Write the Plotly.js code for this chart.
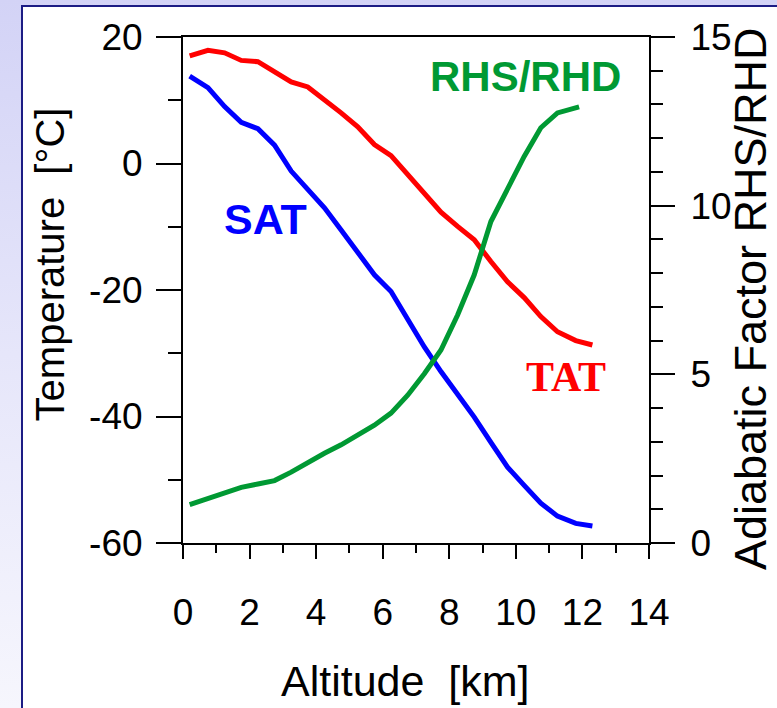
<!DOCTYPE html>
<html>
<head>
<meta charset="utf-8">
<script src="https://cdn.plot.ly/plotly-3.0.1.min.js"></script>
<style>
  html, body { margin: 0; padding: 0; width: 777px; height: 708px; overflow: hidden; }
  body { background: linear-gradient(to bottom, #d3d3f6 0%, #e6e6fa 50%, #f6f6fd 100%); position: relative; }
  #panel { position: absolute; left: 21px; top: 5px; width: 790px; height: 760px; background: #ffffff; border: 2px solid #1c1c84; box-sizing: border-box; }
  #chart { position: absolute; left: 0; top: 0; width: 777px; height: 708px; }
</style>
</head>
<body>
<div id="panel"></div>
<div id="chart"></div>
<script>
// Altitude [km] for the temperature profiles
const altitude = [0.2, 0.75, 1.25, 1.75, 2.25, 2.75, 3.25, 3.75, 4.25, 4.75, 5.25, 5.75, 6.25, 6.75, 7.25, 7.75, 8.25, 8.75, 9.25, 9.75, 10.25, 10.75, 11.25, 11.8, 12.3];
// Total air temperature [°C]
const tat = [17.0, 17.9, 17.5, 16.3, 16.1, 14.6, 12.9, 12.1, 10.1, 8.0, 5.8, 3.0, 1.25, -1.75, -4.7, -7.7, -9.95, -12.05, -15.5, -18.7, -21.2, -24.2, -26.6, -28.0, -28.7];
// Static air temperature [°C]
const sat = [13.8, 12.0, 9.0, 6.5, 5.5, 2.9, -1.2, -4.1, -7.0, -10.5, -13.9, -17.6, -20.25, -24.6, -29.0, -32.9, -36.4, -40.1, -44.1, -48.0, -50.9, -53.7, -55.75, -56.9, -57.3];
// Altitude [km] for the adiabatic factor
const altitudeRatio = [0.2, 0.75, 1.25, 1.75, 2.25, 2.75, 3.25, 3.75, 4.25, 4.75, 5.25, 5.75, 6.25, 6.75, 7.25, 7.75, 8.25, 8.75, 9.25, 9.75, 10.25, 10.75, 11.25, 11.9];
// Adiabatic factor RHS/RHD
const rhsRhd = [1.14, 1.31, 1.50, 1.65, 1.75, 1.85, 2.10, 2.40, 2.66, 2.91, 3.19, 3.49, 3.85, 4.38, 5.02, 5.72, 6.76, 7.95, 9.53, 10.47, 11.46, 12.31, 12.75, 12.93];

const xTicks = [0, 2, 4, 6, 8, 10, 12, 14];
const xTickText = ['0', '2', '4', '6', '8', '10', '12', '14'];
const yTicks = [-60, -40, -20, 0, 20];
const yTickText = ['-60', '-40', '-20', '0', '20'];
const y2Ticks = [0, 5, 10, 15];
const y2TickText = ['0', '5', '10', '15'];

const FONT = 'Arial, "Liberation Sans", sans-serif';

const traces = [
  { x: altitude, y: tat, type: 'scatter', mode: 'lines', name: 'TAT',
    line: { color: '#ff0000', width: 5 }, yaxis: 'y' },
  { x: altitude, y: sat, type: 'scatter', mode: 'lines', name: 'SAT',
    line: { color: '#0000ff', width: 5 }, yaxis: 'y' },
  { x: altitudeRatio, y: rhsRhd, type: 'scatter', mode: 'lines', name: 'RHS/RHD',
    line: { color: '#009933', width: 5 }, yaxis: 'y2' }
];

const axCommon = {
  showgrid: false, zeroline: false, showline: true, linecolor: '#000', linewidth: 2,
  ticks: 'outside', tickcolor: '#000', tickwidth: 2,
  tickfont: { family: FONT, size: 37, color: '#000' }
};

const layout = {
  width: 777, height: 708,
  margin: { l: 183, r: 128, t: 37, b: 165, pad: 0 },
  paper_bgcolor: 'rgba(0,0,0,0)',
  plot_bgcolor: 'rgba(0,0,0,0)',
  showlegend: false,
  xaxis: Object.assign({}, axCommon, {
    range: [0, 14], tickmode: 'array', tickvals: xTicks, ticktext: xTickText, ticklen: 14, mirror: true,
    ticklabelstandoff: 22,
    minor: { dtick: 1, ticks: 'outside', ticklen: 8, tickwidth: 2, tickcolor: '#000' }
  }),
  yaxis: Object.assign({}, axCommon, {
    range: [-60, 20], tickmode: 'array', tickvals: yTicks, ticktext: yTickText, ticklen: 25, ticklabelstandoff: 6,
    minor: { dtick: 10, ticks: 'outside', ticklen: 13, tickwidth: 2, tickcolor: '#000' }
  }),
  yaxis2: Object.assign({}, axCommon, {
    range: [0, 15], tickmode: 'array', tickvals: y2Ticks, ticktext: y2TickText, ticklen: 24, side: 'right', overlaying: 'y',
    ticklabelstandoff: 8,
    minor: { dtick: 1, ticks: 'outside', ticklen: 12, tickwidth: 2, tickcolor: '#000' }
  }),
  annotations: [
    { text: 'Altitude\u00a0 [km]', xref: 'paper', yref: 'paper', x: 0.478, y: -0.272,
      xanchor: 'center', yanchor: 'middle', showarrow: false,
      font: { family: FONT, size: 43, color: '#000' } },
    { text: 'Temperature\u00a0 [°C]', xref: 'paper', yref: 'paper', x: -0.286, y: 0.55,
      xanchor: 'center', yanchor: 'middle', showarrow: false, textangle: -90,
      font: { family: FONT, size: 40, color: '#000' } },
    { text: 'Adiabatic Factor RHS/RHD', xref: 'paper', yref: 'paper', x: 1.2167, y: 0.484,
      xanchor: 'center', yanchor: 'middle', showarrow: false, textangle: -90,
      font: { family: FONT, size: 45, color: '#000' } },
    { text: '<b>SAT</b>', xref: 'paper', yref: 'paper', x: (265 - 183) / 466, y: (543 - 219) / 506,
      xanchor: 'center', yanchor: 'middle', showarrow: false,
      font: { family: FONT, size: 43, color: '#0000ff' } },
    { text: '<b>RHS/RHD</b>', xref: 'paper', yref: 'paper', x: (525 - 183) / 466, y: (543 - 76) / 506,
      xanchor: 'center', yanchor: 'middle', showarrow: false,
      font: { family: FONT, size: 42, color: '#009933' } },
    { text: '<b>TAT</b>', xref: 'paper', yref: 'paper', x: (566 - 183) / 466, y: (543 - 377) / 506,
      xanchor: 'center', yanchor: 'middle', showarrow: false,
      font: { family: '"Times New Roman", "Liberation Serif", serif', size: 42, color: '#ff0000' } }
  ]
};

Plotly.newPlot('chart', traces, layout, { displayModeBar: false, staticPlot: true });
</script>
</body>
</html>
